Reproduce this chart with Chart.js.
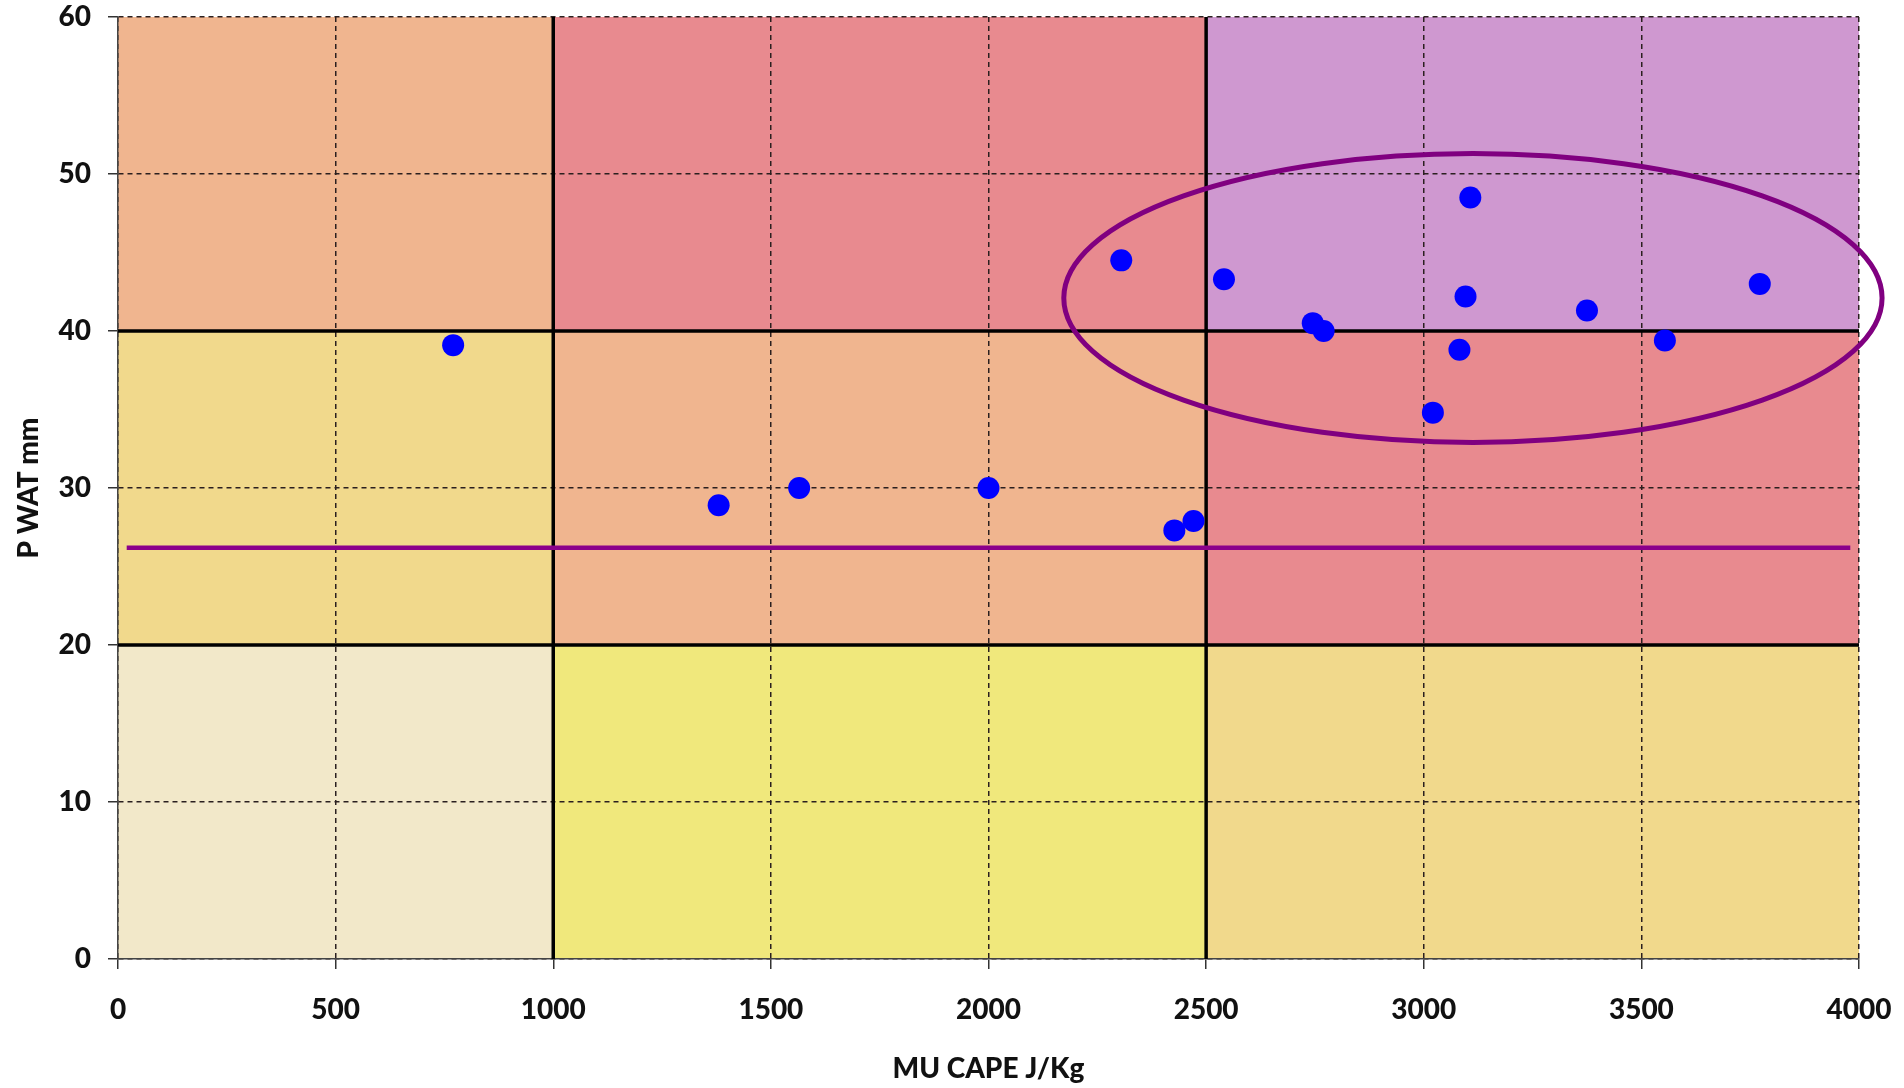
<!DOCTYPE html>
<html>
<head>
<meta charset="utf-8">
<title>MU CAPE vs P WAT</title>
<script src="https://cdn.jsdelivr.net/npm/chart.js@4.4.0/dist/chart.umd.min.js"></script>
<style>
  html, body { margin: 0; padding: 0; background: #fff; }
  canvas { display: block; }
</style>
</head>
<body>
<canvas id="chart" width="1904" height="1088"></canvas>
<script>
// observations: MU CAPE (J/Kg) and P WAT (mm)
const capeValues = [770, 1380, 1565, 2000, 2305, 2427, 2471, 2541, 2745, 2770, 3021, 3082, 3096, 3107, 3375, 3554, 3772];
const pwatValues = [39.1, 28.9, 30.0, 30.0, 44.5, 27.3, 27.9, 43.3, 40.5, 40.0, 34.8, 38.8, 42.2, 48.5, 41.3, 39.4, 43.0];

// axis ticks
const xTicks = [0, 500, 1000, 1500, 2000, 2500, 3000, 3500, 4000];
const yTicks = [0, 10, 20, 30, 40, 50, 60];

// purple reference line
const refLineX = [20, 3980];
const refLineY = [26.2, 26.2];

// coloured zones (rows bottom -> top, columns left -> right)
const capeBreaks = [0, 1000, 2500, 4000];
const pwatBreaks = [0, 20, 40, 60];
const zoneColors = [
  ['#F2E8C9', '#F0E87C', '#F1D98C'],
  ['#F1D98C', '#F0B58F', '#E88A8F'],
  ['#F0B58F', '#E88A8F', '#CF98D0']
];

// ring around the high CAPE cases
const ringCenter = [3113, 42.1];
const ringRadius = [940, 9.2];

const points = capeValues.map((x, i) => ({ x: x, y: pwatValues[i] }));
const refLine = refLineX.map((x, i) => ({ x: x, y: refLineY[i] }));

const tickFont = { family: 'Lato', size: 28, weight: '900' };

const zonesPlugin = {
  id: 'zones',
  beforeDraw(chart) {
    const { ctx, scales: { x, y } } = chart;
    ctx.save();
    for (let r = 0; r < 3; r++) {
      for (let c = 0; c < 3; c++) {
        const x0 = x.getPixelForValue(capeBreaks[c]);
        const x1 = x.getPixelForValue(capeBreaks[c + 1]);
        const y0 = y.getPixelForValue(pwatBreaks[r + 1]);
        const y1 = y.getPixelForValue(pwatBreaks[r]);
        ctx.fillStyle = zoneColors[r][c];
        ctx.fillRect(x0, y0, x1 - x0, y1 - y0);
      }
    }
    ctx.restore();
  },
  beforeDatasetsDraw(chart) {
    // heavy black borders between zones
    const { ctx, chartArea: a, scales: { x, y } } = chart;
    ctx.save();
    ctx.strokeStyle = '#000';
    ctx.lineWidth = 3.5;
    ctx.beginPath();
    capeBreaks.slice(1, -1).forEach(v => {
      const px = x.getPixelForValue(v);
      ctx.moveTo(px, a.top);
      ctx.lineTo(px, a.bottom);
    });
    pwatBreaks.slice(1, -1).forEach(v => {
      const py = y.getPixelForValue(v);
      ctx.moveTo(a.left, py);
      ctx.lineTo(a.right, py);
    });
    ctx.stroke();
    ctx.restore();
  },
  afterDatasetsDraw(chart) {
    const { ctx, scales: { x, y } } = chart;
    const cx = x.getPixelForValue(ringCenter[0]);
    const cy = y.getPixelForValue(ringCenter[1]);
    const rx = x.getPixelForValue(ringCenter[0] + ringRadius[0]) - cx;
    const ry = cy - y.getPixelForValue(ringCenter[1] + ringRadius[1]);
    ctx.save();
    ctx.strokeStyle = '#800080';
    ctx.lineWidth = 5;
    ctx.beginPath();
    ctx.ellipse(cx, cy, rx, ry, 0, 0, Math.PI * 2);
    ctx.stroke();
    ctx.restore();
  }
};

new Chart(document.getElementById('chart'), {
  type: 'scatter',
  data: {
    datasets: [
      {
        type: 'line',
        label: 'threshold',
        data: refLine,
        borderColor: '#8B008B',
        borderWidth: 4.5,
        pointRadius: 0,
        fill: false
      },
      {
        label: 'cases',
        data: points,
        backgroundColor: '#0000FF',
        borderWidth: 0,
        pointRadius: 11
      }
    ]
  },
  options: {
    responsive: false,
    animation: false,
    events: [],
    layout: { padding: { top: 17, right: 45, left: 0, bottom: 0 } },
    plugins: {
      legend: { display: false },
      tooltip: { enabled: false }
    },
    scales: {
      x: {
        type: 'linear',
        min: 0,
        max: 4000,
        afterBuildTicks: s => { s.ticks = xTicks.map(v => ({ value: v })); },
        afterFit: s => { s.height = 129; s.paddingLeft = 0; s.paddingRight = 0; },
        ticks: { font: tickFont, color: '#111', padding: 24, maxRotation: 0, callback: v => String(v) },
        grid: { color: '#2a1f1f', lineWidth: 1.5, tickLength: 10, tickColor: '#333' },
        border: { color: '#444', width: 1.5, dash: [5, 4] },
        title: {
          display: true,
          text: 'MU CAPE J/Kg',
          font: tickFont,
          color: '#111',
          padding: { top: 2, bottom: 2 }
        }
      },
      y: {
        type: 'linear',
        min: 0,
        max: 60,
        afterBuildTicks: s => { s.ticks = yTicks.map(v => ({ value: v })); },
        afterFit: s => { s.width = 118; s.paddingTop = 0; s.paddingBottom = 0; },
        ticks: { font: tickFont, color: '#111', padding: 17, callback: v => String(v) },
        grid: { color: '#2a1f1f', lineWidth: 1.5, tickLength: 10, tickColor: '#333' },
        border: { color: '#444', width: 1.5, dash: [5, 4] },
        title: {
          display: true,
          text: 'P WAT mm',
          font: tickFont,
          color: '#111',
          padding: { top: 12, bottom: 12 }
        }
      }
    }
  },
  plugins: [zonesPlugin]
});
</script>
</body>
</html>
